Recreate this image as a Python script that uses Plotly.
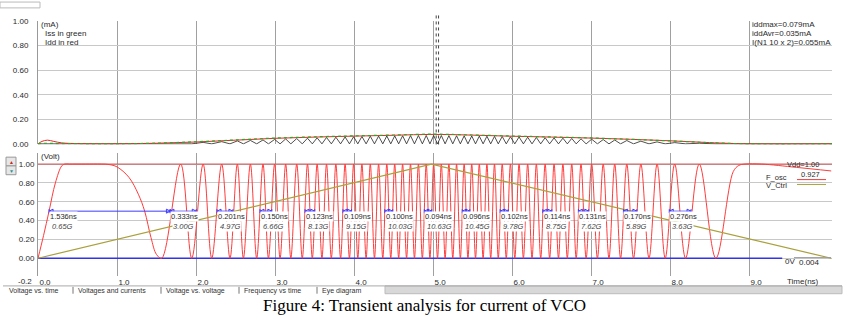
import plotly.graph_objects as go

W, H = 849, 326
def px(x): return x / W
def py(y): return 1 - y / H

# ---------------- data ----------------
# lower panel: oscillator output F_osc (Volt)
osc_start_t = [0.0, 0.07, 0.14, 0.22, 0.30, 0.34, 0.40, 0.60, 0.80, 0.90, 1.0, 1.15, 1.27, 1.35, 1.43, 1.50, 1.566]
osc_start_v = [0.0, 0.24, 0.5, 0.8, 0.98, 1.0, 1.0, 1.0, 1.0, 0.995, 0.97, 0.86, 0.68, 0.5, 0.22, 0.04, 0.0]
peak_t = [1.806, 2.09, 2.325, 2.523, 2.688, 2.848, 2.995, 3.135, 3.275, 3.411,
          3.533, 3.652, 3.77, 3.887, 3.995, 4.10, 4.206, 4.311, 4.415, 4.515,
          4.615, 4.715, 4.815, 4.914, 5.008, 5.105, 5.201, 5.298, 5.394, 5.49,
          5.586, 5.682, 5.778, 5.876, 5.98, 6.089, 6.198, 6.308, 6.419, 6.532,
          6.644, 6.756, 6.873, 7.008, 7.154, 7.30, 7.453, 7.631, 7.836, 8.059, 8.37]
trough_t = [1.946, 2.199, 2.43, 2.60, 2.768, 2.917, 3.064, 3.20, 3.345, 3.472,
            3.594, 3.713, 3.83, 3.942, 4.048, 4.153, 4.259, 4.364, 4.465, 4.565,
            4.665, 4.765, 4.865, 4.961, 5.057, 5.153, 5.25, 5.346, 5.442, 5.538,
            5.634, 5.73, 5.826, 5.927, 6.035, 6.144, 6.253, 6.363, 6.476, 6.588,
            6.70, 6.812, 6.938, 7.081, 7.227, 7.374, 7.538, 7.734, 7.939, 8.197, 8.58]
peak_v = 1.0
trough_v = 0.0
osc_end_t = [8.80, 8.87, 8.95, 9.16, 9.6, 10.04]
osc_end_v = [0.92, 0.985, 1.0, 1.0, 0.965, 0.927]

vctrl_t = [0.0, 4.98, 10.04]
vctrl_v = [0.0, 1.0, 0.0]
vdd_t = [0.0, 10.05]
vdd_v = [1.0, 1.0]
zero_t = [0.0, 9.42]
zero_v = [0.0, 0.0]

meas_start = [0.14, 1.67, 2.266, 2.81, 3.38, 3.86, 4.39, 4.89, 5.37, 5.85, 6.39, 6.84, 7.41, 7.99]
meas_period = [1.536, 0.333, 0.201, 0.150, 0.123, 0.109, 0.100, 0.094, 0.096, 0.102, 0.114, 0.131, 0.170, 0.276]
meas_period_txt = ["1.536ns", "0.333ns", "0.201ns", "0.150ns", "0.123ns", "0.109ns", "0.100ns",
                   "0.094ns", "0.096ns", "0.102ns", "0.114ns", "0.131ns", "0.170ns", "0.276ns"]
meas_freq_txt = ["0.65G", "3.00G", "4.97G", "6.66G", "8.13G", "9.15G", "10.03G",
                 "10.63G", "10.45G", "9.78G", "8.75G", "7.62G", "5.89G", "3.63G"]
meas_level = 0.5

# upper panel: currents (mA)
cur_t = [0.0, 0.05, 0.12, 0.2, 0.3, 0.5, 1.0, 1.5, 2.0, 2.5, 3.0, 3.5, 4.0, 4.5, 5.0,
         5.5, 6.0, 6.5, 7.0, 7.5, 8.0, 8.5, 9.0, 10.05]
idd_ma = [0.0, 0.02, 0.03, 0.02, 0.008, 0.002, 0.0, 0.005, 0.015, 0.03, 0.045, 0.055, 0.063, 0.07, 0.077,
          0.071, 0.062, 0.055, 0.047, 0.037, 0.025, 0.01, 0.0, 0.0]
iss_ma = [0.0, 0.004, 0.005, 0.003, 0.002, 0.001, 0.0, 0.006, 0.017, 0.032, 0.047, 0.057, 0.065, 0.072, 0.079,
          0.072, 0.064, 0.056, 0.048, 0.037, 0.024, 0.01, 0.0, 0.0]
spike_amp = [0.005, 0.012, 0.018, 0.024, 0.028, 0.032, 0.036, 0.04, 0.043, 0.046,
             0.049, 0.052, 0.054, 0.056, 0.058, 0.06, 0.062, 0.063, 0.064, 0.065,
             0.066, 0.067, 0.068, 0.068, 0.068, 0.068, 0.067, 0.066, 0.065, 0.064,
             0.063, 0.062, 0.061, 0.06, 0.058, 0.056, 0.054, 0.052, 0.05, 0.048,
             0.046, 0.044, 0.041, 0.038, 0.035, 0.031, 0.027, 0.022, 0.016, 0.01, 0.005]
marker_t = [5.04, 5.07]

x_ticks = [0, 1, 2, 3, 4, 5, 6, 7, 8, 9]
x_ticktext = ["0.0", "1.0", "2.0", "3.0", "4.0", "5.0", "6.0", "7.0", "8.0", "9.0"]
y_ticks = [0, 0.2, 0.4, 0.6, 0.8, 1.0]
y_ticktext = ["0.00", "0.20", "0.40", "0.60", "0.80", "1.00"]

# ---------------- build ----------------
osc_x = list(osc_start_t)
osc_y = list(osc_start_v)
for pk, tr in zip(peak_t, trough_t):
    osc_x += [pk, tr]
    osc_y += [peak_v, trough_v]
osc_x += osc_end_t
osc_y += osc_end_v

spk_x = [0.0, 1.566]
spk_y = [0.0, 0.0]
for pk, tr, a in zip(peak_t, trough_t, spike_amp):
    spk_x += [pk, tr]
    spk_y += [a, 0.0]
spk_x += [10.05]
spk_y += [0.0]

FONT = "Liberation Sans, Arial, sans-serif"
TXT = "#2a2a2a"
BLUE = "rgb(60,60,255)"

fig = go.Figure()

# top panel
fig.add_trace(go.Scatter(x=spk_x, y=spk_y, mode="lines", line=dict(color="#222", width=0.8),
                         xaxis="x2", yaxis="y2", hoverinfo="skip"))
fig.add_trace(go.Scatter(x=cur_t, y=idd_ma, mode="lines", line=dict(color="rgb(230,40,30)", width=1, shape="spline"),
                         xaxis="x2", yaxis="y2"))
fig.add_trace(go.Scatter(x=cur_t, y=iss_ma, mode="lines",
                         line=dict(color="rgb(40,170,40)", width=1.2, dash="dot", shape="spline"),
                         xaxis="x2", yaxis="y2"))

# bottom panel
fig.add_trace(go.Scatter(x=vdd_t, y=vdd_v, mode="lines", line=dict(color="rgb(200,80,80)", width=1),
                         xaxis="x", yaxis="y"))
fig.add_trace(go.Scatter(x=zero_t, y=zero_v, mode="lines", line=dict(color="rgb(50,50,235)", width=1.6),
                         xaxis="x", yaxis="y"))
fig.add_trace(go.Scatter(x=osc_x, y=osc_y, mode="lines",
                         line=dict(color="rgb(255,60,60)", width=1, shape="spline", smoothing=1),
                         xaxis="x", yaxis="y"))
fig.add_trace(go.Scatter(x=vctrl_t, y=vctrl_v, mode="lines", line=dict(color="rgb(170,160,60)", width=1.2),
                         xaxis="x", yaxis="y"))

# measurement arrows
ax, ay = [], []
lx, rx = [], []
for s, p in zip(meas_start, meas_period):
    ax += [s, s + p, None]
    ay += [meas_level, meas_level, None]
    lx.append(s)
    rx.append(s + p)
fig.add_trace(go.Scatter(x=ax, y=ay, mode="lines", line=dict(color=BLUE, width=1),
                         xaxis="x", yaxis="y"))
fig.add_trace(go.Scatter(x=lx, y=[meas_level] * len(lx), mode="markers",
                         marker=dict(symbol="arrow-bar-left-open", size=4, color=BLUE,
                                     line=dict(width=1, color=BLUE)),
                         xaxis="x", yaxis="y"))
fig.add_trace(go.Scatter(x=rx, y=[meas_level] * len(rx), mode="markers",
                         marker=dict(symbol="arrow-bar-right-open", size=4, color=BLUE,
                                     line=dict(width=1, color=BLUE)),
                         xaxis="x", yaxis="y"))

annotations = []
for s, pt, ft in zip(meas_start, meas_period_txt, meas_freq_txt):
    annotations.append(dict(x=s, y=0.447, xref="x", yref="y", text=pt, showarrow=False,
                            xanchor="left", yanchor="middle", xshift=0, bgcolor="white", borderpad=0,
                            font=dict(family=FONT, size=7.5, color=TXT)))
    annotations.append(dict(x=s, y=0.34, xref="x", yref="y", text="<i>" + ft + "</i>", showarrow=False,
                            xanchor="left", yanchor="middle", xshift=2, bgcolor="white", borderpad=0,
                            font=dict(family=FONT, size=7.5, color="#444")))

def note(x, y, text, anchor="left", size=8, color=TXT, family=FONT):
    annotations.append(dict(x=px(x), y=py(y), xref="paper", yref="paper", text=text, showarrow=False,
                            xanchor=anchor, yanchor="middle", font=dict(family=family, size=size, color=color)))

note(39, 21, "(mA)")
note(43, 30, "Iss in green")
note(43, 39, "Idd in red")
note(750, 21, "iddmax=0.079mA")
note(750, 30, "iddAvr=0.035mA")
note(750, 39, "I(N1 10 x 2)=0.055mA")
note(39, 156, "(Volt)")
note(785, 165, "Vdd=1.00", size=7.5)
note(764, 178, "F_osc", size=7.5)
note(799, 175, "0.927", size=7.5)
note(764, 186, "V_Ctrl", size=7.5)
note(783, 264, "0V")
note(797, 265, "0.004")
note(785, 284, "Time(ns)")
note(34, 284, "-0.2", anchor="right")
note(11, 162, "▲", anchor="center", size=5, color="rgb(200,40,40)")
note(11, 171, "▼", anchor="center", size=5, color="rgb(40,150,150)")
tabs = [(7, "Voltage vs. time"), (76, "Voltages and currents"), (164, "Voltage vs. voltage"),
        (242, "Frequency vs time"), (320, "Eye diagram")]
for tx, tt in tabs:
    note(tx, 294, tt, size=7, color="#333")
note(424.5, 309, "Figure 4: Transient analysis for current of VCO", anchor="center", size=17,
     color="black", family="Liberation Serif, Times New Roman, serif")

shapes = []
for mt in marker_t:
    shapes.append(dict(type="line", xref="x2", yref="y2 domain", x0=mt, x1=mt, y0=0, y1=1.05,
                       line=dict(color="#444", width=1, dash="dot")))
def pline(x0, y0, x1, y1, color, width=1):
    shapes.append(dict(type="line", xref="paper", yref="paper", x0=px(x0), x1=px(x1), y0=py(y0), y1=py(y1),
                       line=dict(color=color, width=width)))
def prect(x0, y0, x1, y1, fill, lc):
    shapes.append(dict(type="rect", xref="paper", yref="paper", x0=px(x0), x1=px(x1), y0=py(y0), y1=py(y1),
                       fillcolor=fill, line=dict(color=lc, width=1), layer="below"))

pline(797, 180, 826, 180, "rgb(240,60,60)")
pline(797, 185, 826, 185, "rgb(170,160,60)")
pline(794, 260, 831, 260, "#999")
prect(6, 157, 16, 166, "#e6e6e6", "#999")
prect(6, 166, 16, 175, "#e6e6e6", "#999")
prect(0, -2, 40, 4, "white", "#bbb")
pline(3, 289, 842, 289, "#aaa")
prect(385, 289, 842, 297, "#d8d8d8", "#bbb")
for tx, tt in tabs[1:]:
    pline(tx - 3, 290, tx - 3, 297, "#777")

fig.update_layout(
    width=W, height=H, margin=dict(l=0, r=0, t=0, b=0),
    paper_bgcolor="white", plot_bgcolor="white", showlegend=False,
    annotations=annotations, shapes=shapes,
    xaxis=dict(domain=[px(38), px(832)], range=[0, 10.05], anchor="y",
               tickvals=x_ticks, ticktext=x_ticktext, ticks="", showgrid=True,
               gridcolor="#a0a0a0", gridwidth=1, zeroline=False, showline=False,
               ticklabelshift=7, ticklabelstandoff=0,
               tickfont=dict(family=FONT, size=8, color=TXT)),
    yaxis=dict(domain=[py(279), py(153)], range=[-0.19, 1.115], anchor="x",
               tickvals=y_ticks, ticktext=y_ticktext, ticks="", showgrid=True,
               gridcolor="#c8c8c8", zeroline=False, showline=True, linecolor="#999",
               ticklabelstandoff=1, tickfont=dict(family=FONT, size=8, color=TXT)),
    xaxis2=dict(domain=[px(38), px(832)], range=[0, 10.05], anchor="y2", matches="x",
                tickvals=x_ticks, showticklabels=False, ticks="", showgrid=True,
                gridcolor="#a0a0a0", zeroline=False, showline=False),
    yaxis2=dict(domain=[py(144), py(17)], range=[-0.005, 1.003], anchor="x2",
                tickvals=y_ticks, ticktext=y_ticktext, ticks="", showgrid=True,
                gridcolor="#c8c8c8", zeroline=False, showline=True, linecolor="#999",
                ticklabelstandoff=7, tickfont=dict(family=FONT, size=8, color=TXT)),
)

fig.write_html("out.html")
